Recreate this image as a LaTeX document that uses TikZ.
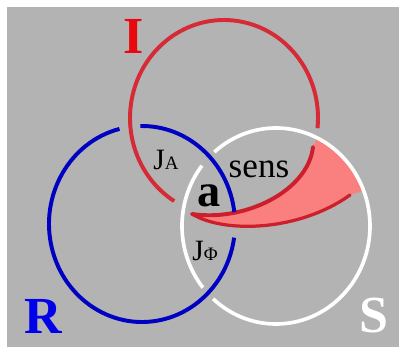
\documentclass[tikz,border=0pt]{standalone}
\usepackage{fontspec}
\setmainfont{Liberation Serif}
\definecolor{panelgray}{RGB}{179,179,179}
\definecolor{ringred}{RGB}{214,42,54}
\definecolor{ringblue}{RGB}{0,0,195}
\definecolor{letterred}{RGB}{232,8,14}
\definecolor{letterblue}{RGB}{0,0,235}
\definecolor{sensfill}{RGB}{250,128,128}
\definecolor{sensedge}{RGB}{205,30,44}
\begin{document}
\begin{tikzpicture}[x=0.025cm,y=0.025cm,
    ring/.style={line width=2.8pt},
    letter/.style={font=\fontsize{37}{40}\selectfont\bfseries},
    tag/.style={anchor=base,text=black}]
  \useasboundingbox (0,0) rectangle (401,356);
  \fill[white] (0,0) rectangle (401,356);
  \fill[panelgray] (7,9) rectangle (399,349);
  % ring centres
  \coordinate (cI) at (224,238);
  \coordinate (cR) at (142,132);
  \coordinate (cS) at (276,130);
  % sens horn
  \coordinate (tip) at (192,142);
  \coordinate (hornup) at (313,209);
  \coordinate (hornlow) at (350,161);
  \begin{scope}
    \clip (cS) ellipse [x radius=94, y radius=98];
    \fill[sensfill] (tip) .. controls (245,134) and (308,165) .. (hornup)
      -- (322,228) -- (385,190) -- (372,168) -- (hornlow)
      .. controls (300,125) and (225,122) .. (tip) -- cycle;
  \end{scope}
  % I ring
  \draw[ring, ringred] (cI) ++(-6:94 and 98)
    arc[start angle=-6, end angle=238, x radius=94, y radius=98];
  \draw[ring, sensedge, line cap=round] (tip) .. controls (245,134) and (308,165) .. (hornup);
  \draw[line width=2.3pt, sensedge, line cap=round] (tip) .. controls (225,122) and (300,125) .. (hornlow);
  % S ring
  \draw[line width=2.6pt, white] (cS) ++(142:94 and 98)
    arc[start angle=142, end angle=219, x radius=94, y radius=98];
  \draw[line width=2.6pt, white] (cS) ++(228:94 and 98)
    arc[start angle=228, end angle=491, x radius=94, y radius=98];
  % R ring
  \draw[ring, ringblue] (cR) ++(7:93 and 98)
    arc[start angle=7, end angle=91, x radius=93, y radius=98];
  \draw[ring, ringblue] (cR) ++(104:93 and 98)
    arc[start angle=104, end angle=352, x radius=93, y radius=98];
  % letters
  \node[letter, text=letterred] (nI) at (134,320) {I};
  \node[letter, text=letterblue] (nR) at (43,40) {R};
  \node[letter, text=white] (nS) at (374,40) {S};
  \node[tag, font=\fontsize{25}{28}\selectfont] (sens) at (259,179) {sens};
  \node[tag, font=\fontsize{33}{36}\selectfont\bfseries] (a) at (209,149) {a};
  \node[tag, font=\fontsize{21}{24}\selectfont] (ja) at (166,186) {J{\fontsize{13.5}{15}\selectfont A}};
  \node[tag, font=\fontsize{21}{24}\selectfont] (jphi) at (205,96) {J{\fontsize{13.5}{15}\selectfont Φ}};
\end{tikzpicture}
\end{document}
